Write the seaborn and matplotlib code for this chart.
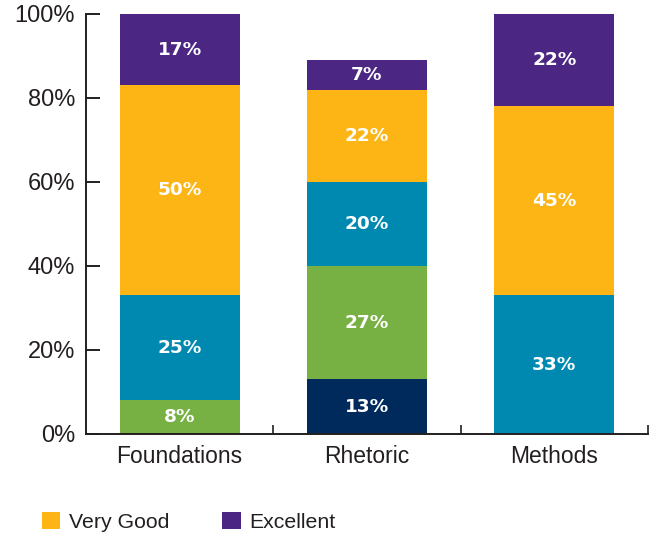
import pandas as pd
import seaborn as sns
import matplotlib.pyplot as plt
from matplotlib.patches import Patch

categories = ['Foundations', 'Rhetoric', 'Methods']
series = ['Poor', 'Fair', 'Good', 'Very Good', 'Excellent']
poor = [0, 13, 0]
fair = [8, 27, 0]
good = [25, 20, 33]
very_good = [50, 22, 45]
excellent = [17, 7, 22]
colors = ['#002a5c', '#77b043', '#0089b0', '#fdb516', '#4b2683']
legend_series = ['Very Good', 'Excellent']


def build_frame():
    df = pd.DataFrame({'category': categories, 'Poor': poor, 'Fair': fair,
                       'Good': good, 'Very Good': very_good, 'Excellent': excellent})
    cum = df[series].cumsum(axis=1)
    return df, cum


def plot_stacked(df, cum):
    sns.set_style('ticks')
    plt.rcParams['font.family'] = ['Liberation Sans', 'DejaVu Sans']

    fig = plt.figure(figsize=(6.52, 5.35), dpi=100)
    ax = fig.add_axes([86 / 652, 1 - 434 / 535, 562 / 652, 420 / 535])

    # draw cumulative totals from the top layer down so they overlap into a stack
    for name, color in reversed(list(zip(series, colors))):
        sns.barplot(x=df['category'], y=cum[name], color=color, saturation=1,
                    width=0.64, linewidth=0, ax=ax, order=categories)

    for i, cat in enumerate(categories):
        for name in series:
            val = df.loc[i, name]
            if val <= 0:
                continue
            mid = cum.loc[i, name] - val / 2
            ax.text(i, mid, f'{val}%', ha='center', va='center', color='white',
                    fontsize=13.3, fontweight='bold', family='DejaVu Sans')

    ax.set_xlim(-0.5, 2.5)
    ax.set_ylim(0, 100)
    ax.set_yticks(range(0, 101, 20))
    ax.set_yticklabels([f'{v}%' for v in range(0, 101, 20)])
    ax.set_xticks([0.5, 1.5, 2.5], minor=True)
    ax.set_xlabel('')
    ax.set_ylabel('')

    sns.despine(ax=ax)
    for s in ['left', 'bottom']:
        ax.spines[s].set_color('#231f20')
        ax.spines[s].set_linewidth(1.4)
    ax.tick_params(axis='y', direction='in', length=10, width=1.4, color='#231f20',
                   labelsize=17, labelcolor='#231f20', pad=8)
    ax.tick_params(axis='x', which='major', length=0, labelsize=16.5,
                   labelcolor='#231f20', pad=8)
    ax.tick_params(axis='x', which='minor', direction='in', length=6.5, width=1.2,
                   color='#231f20')

    handles = [Patch(facecolor=colors[series.index(n)], edgecolor='none', label=n)
               for n in legend_series]
    fig.legend(handles=handles, loc='center left', bbox_to_anchor=(42 / 652, 0.024),
               ncol=2, frameon=False, fontsize=15.3, borderpad=0, borderaxespad=0,
               handlelength=0.85, handleheight=0.85, handletextpad=0.42,
               columnspacing=2.5, labelcolor='#231f20')

    fig.savefig('out.png', dpi=100)


def main():
    df, cum = build_frame()
    plot_stacked(df, cum)


if __name__ == "__main__":
    main()
